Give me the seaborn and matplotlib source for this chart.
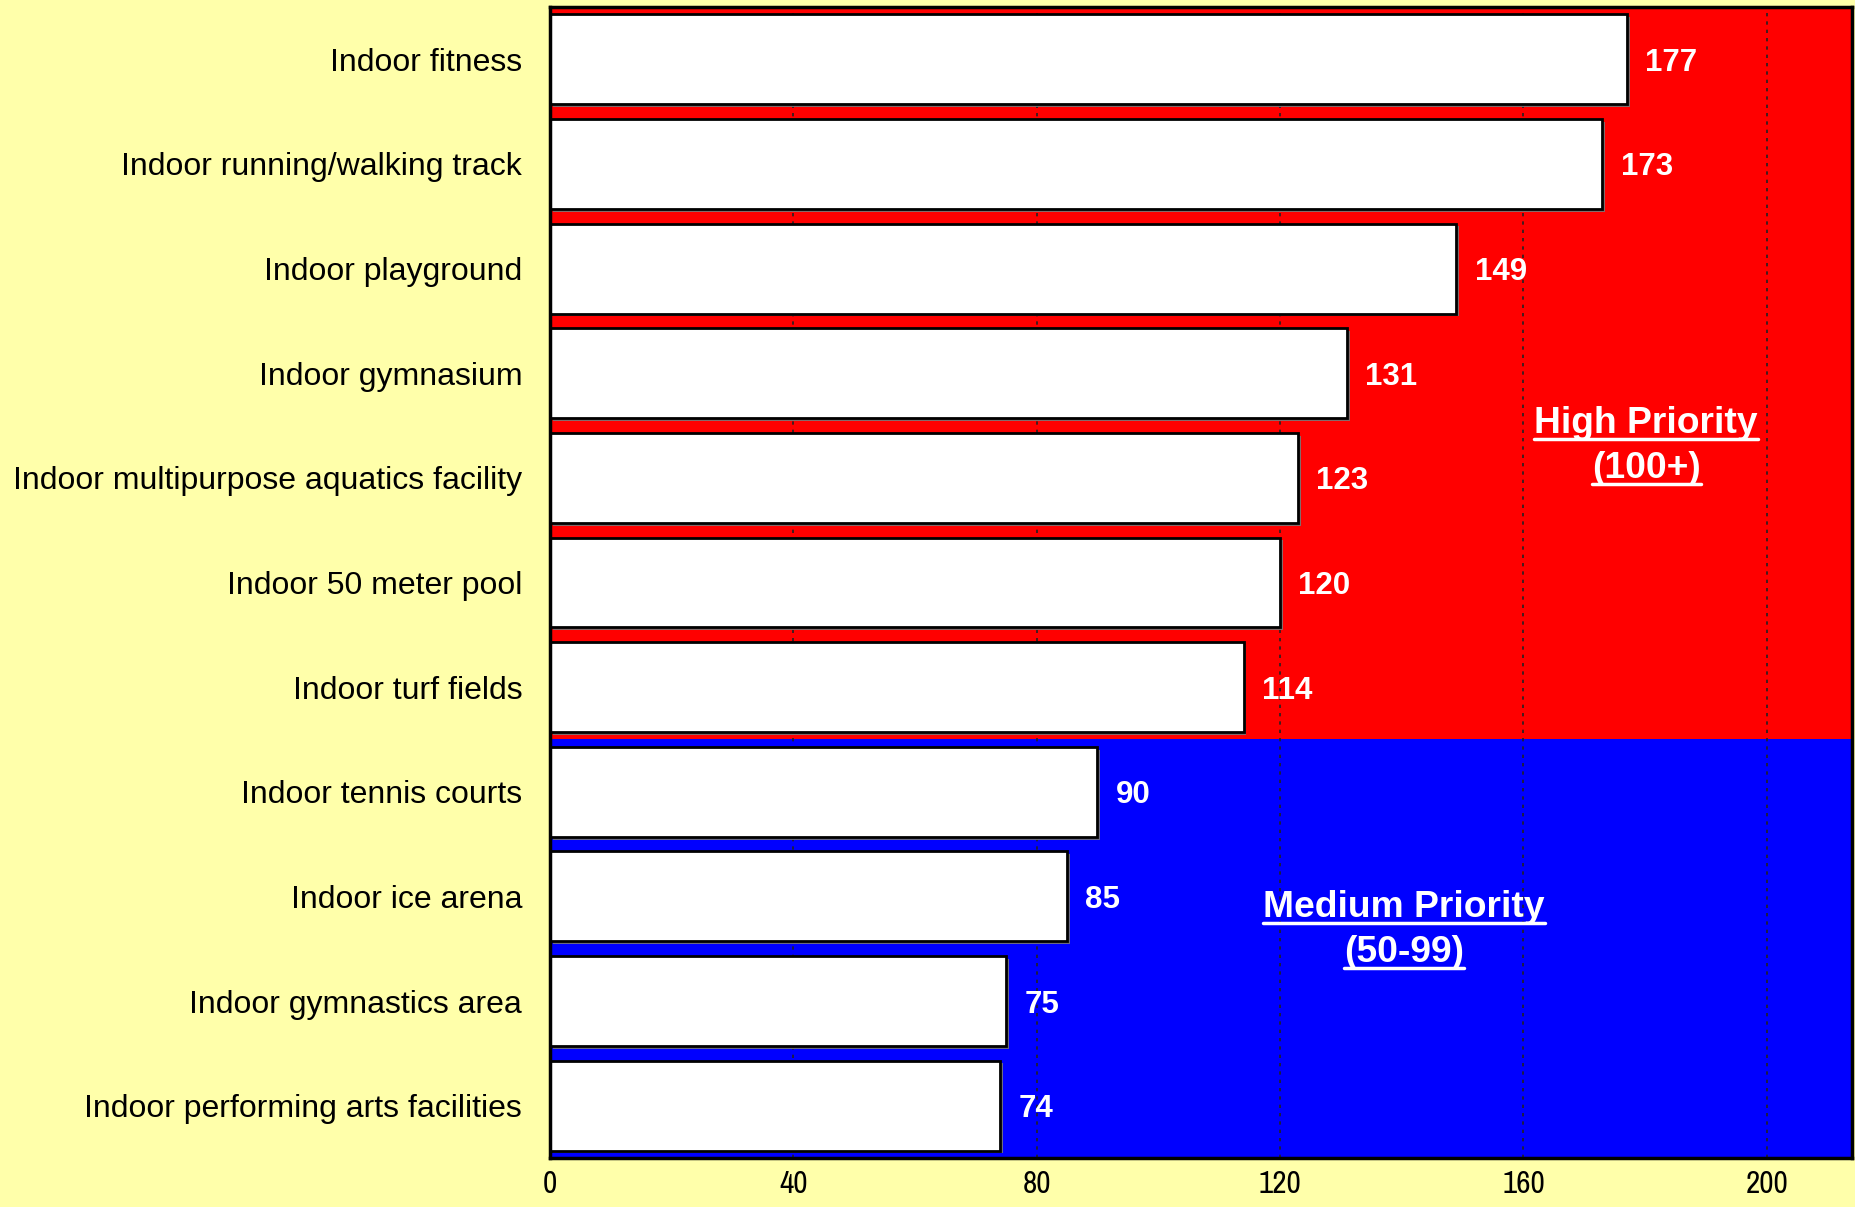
import matplotlib
matplotlib.use("Agg")
import matplotlib.pyplot as plt
import matplotlib.patheffects as pe
from matplotlib.lines import Line2D
from matplotlib import font_manager
import seaborn as sns
import pandas as pd

# -----------------------------------------
#  Data
# -----------------------------------------

FACILITIES = [
    "Indoor fitness",
    "Indoor running/walking track",
    "Indoor playground",
    "Indoor gymnasium",
    "Indoor multipurpose aquatics facility",
    "Indoor 50 meter pool",
    "Indoor turf fields",
    "Indoor tennis courts",
    "Indoor ice arena",
    "Indoor gymnastics area",
    "Indoor performing arts facilities",
]
SCORES = [177, 173, 149, 131, 123, 120, 114, 90, 85, 75, 74]
X_TICKS = [0, 40, 80, 120, 160, 200]

BG = "#FFFFAA"
RED = "#FF0000"
BLUE = "#0000FF"

# -----------------------------------------
#  Style
# -----------------------------------------

sns.set_theme(style="white")
plt.rcParams["font.family"] = ["Liberation Sans", "DejaVu Sans"]

# look for a narrow face for the x tick labels
tick_font = {"family": "Liberation Sans", "size": 20}
for f in font_manager.fontManager.ttflist:
    if "Narrow" in f.name or "Condensed" in f.name:
        tick_font = {"family": f.name, "size": 22.5}
        break
else:
    for f in font_manager.fontManager.ttflist:
        if f.name in ("DejaVu Sans", "Liberation Sans", "Roboto", "Open Sans") \
                and f.stretch in ("condensed", "semi-condensed", 500, 300) \
                and f.weight in ("normal", 400, "regular", "book"):
            tick_font = {"family": f.name, "stretch": f.stretch, "size": 22.5}
            break

df = pd.DataFrame({"facility": FACILITIES, "score": SCORES})

fig = plt.figure(figsize=(18.56, 12.07), dpi=100, facecolor=BG)
ax = fig.add_axes([0.2963, 0.0406, 0.7015, 0.9536])

# priority bands
ax.axhspan(-0.5, 6.5, color=RED, zorder=0, lw=0)
ax.axhspan(6.5, 10.5, color=BLUE, zorder=0, lw=0)

sns.barplot(data=df, x="score", y="facility", orient="h", color="white",
            saturation=1, edgecolor="black", linewidth=2, width=0.86, ax=ax,
            zorder=2)
for p in ax.patches:
    p.set_path_effects([pe.SimplePatchShadow(offset=(2, -2), shadow_rgbFace="#777777", alpha=0.9),
                        pe.Normal()])

for i, v in enumerate(SCORES):
    ax.annotate(str(v), (v, i), xytext=(13, 0), textcoords="offset points",
                ha="left", va="center_baseline", color="white", fontsize=22.5,
                fontweight="bold", zorder=3)

ax.set_xlim(0, 214)
ax.set_ylim(10.5, -0.5)
ax.set_xticks(X_TICKS)
ax.set_xticklabels([str(t) for t in X_TICKS], fontdict=tick_font)
ax.tick_params(axis="x", length=0, pad=8.5, colors="black")
ax.tick_params(axis="y", length=0, pad=20, labelsize=23, colors="black")
ax.set_xlabel("")
ax.set_ylabel("")

ax.set_axisbelow(True)
ax.xaxis.grid(True, color="#222222", linestyle=(0, (2, 3)), linewidth=1.2, zorder=1)
ax.yaxis.grid(False)
for s in ax.spines.values():
    s.set_visible(True)
    s.set_color("black")
    s.set_linewidth(2.5)
    s.set_zorder(5)

# priority labels (underlined)
PRIORITY_TEXT = [
    ("High Priority", 180.2, 3.57),
    ("(100+)", 180.2, 4.0),
    ("Medium Priority", 140.4, 8.2),
    ("(50-99)", 140.4, 8.63),
]
texts = []
for label, x, y in PRIORITY_TEXT:
    t = ax.text(x, y, label, ha="center", va="baseline", color="white",
                fontsize=26.8, fontweight="bold", zorder=4)
    texts.append(t)

fig.canvas.draw()
inv = fig.transFigure.inverted()
for t in texts:
    bb = t.get_window_extent()
    (x0, y0), (x1, _) = inv.transform([(bb.x0, bb.y0 + 2), (bb.x1, bb.y0 + 2)])
    fig.add_artist(Line2D([x0, x1], [y0, y0], color="white", linewidth=2.5,
                          transform=fig.transFigure, zorder=6))

fig.savefig("out.png", dpi=100, facecolor=BG)
